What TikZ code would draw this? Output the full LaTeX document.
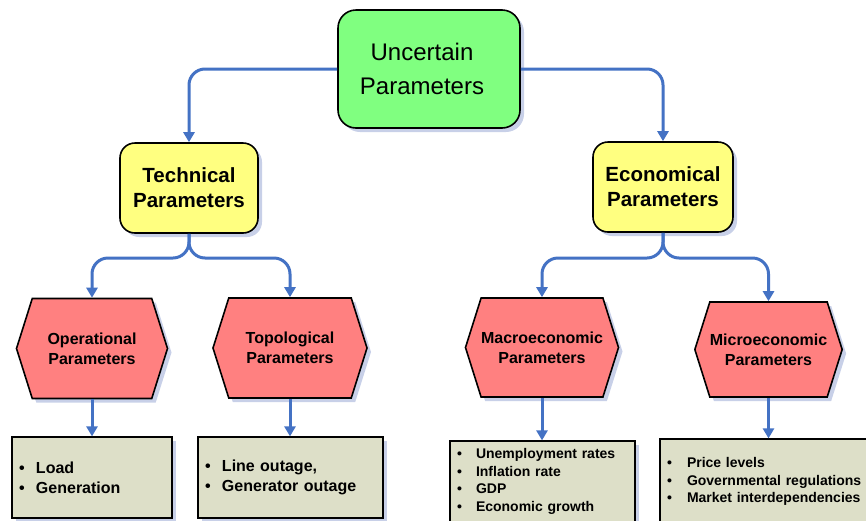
\documentclass[tikz,border=0pt]{standalone}
\usepackage{fontspec}
\setmainfont{Liberation Sans}
\usetikzlibrary{arrows.meta,shapes.symbols,shadows}
\definecolor{linec}{RGB}{68,114,196}
\definecolor{greenc}{RGB}{128,255,128}
\definecolor{yellowc}{RGB}{255,255,128}
\definecolor{redc}{RGB}{255,128,128}
\definecolor{khakic}{RGB}{221,223,200}
\definecolor{shadowc}{RGB}{190,200,228}
\newcommand{\myitem}[2]{\makebox[#1][l]{\textbullet}#2}
\begin{document}
\begin{tikzpicture}[x=1pt,y=-1pt,
  shadowed/.style={drop shadow={shadow xshift=4pt,shadow yshift=-4pt,fill=shadowc,opacity=0.85}},
  topbox/.style={draw=black,line width=1.6pt,fill=greenc,rounded corners=18pt,
    minimum width=182pt,minimum height=118pt,align=center,inner sep=0pt,
    font=\fontsize{24}{34}\selectfont,shadowed},
  midbox/.style={draw=black,line width=1.6pt,fill=yellowc,rounded corners=15pt,
    minimum height=90pt,align=center,inner sep=0pt,
    font=\bfseries\fontsize{20.5}{25}\selectfont,shadowed},
  hexbox/.style={signal,signal to=west and east,signal pointer angle=145,
    draw=black,line width=1.6pt,fill=redc,align=center,inner sep=0pt,
    font=\bfseries\fontsize{16}{20}\selectfont,shadowed},
  leafbox/.style={draw=black,line width=1.2pt,fill=khakic,inner xsep=7pt,inner ysep=0pt,
    align=left,shadowed},
  connector/.style={draw=linec,line width=3pt,rounded corners=16pt,
    -{Triangle[width=11pt,length=10pt]}}
]
\useasboundingbox (0,0) rectangle (866,520);
\clip (0,0) rectangle (866,520);

% top
\node[topbox] (top) at (429,69) {Uncertain\hspace*{14pt}\\Parameters\hspace*{14pt}};

% second level
\node[midbox,minimum width=138pt] (tech) at (189,188) {Technical\\Parameters};
\node[midbox,minimum width=140pt] (econ) at (663,187) {Economical\\Parameters};

% hexagons
\node[hexbox,minimum width=151pt,minimum height=100pt] (op) at (92,348.5) {Operational\\Parameters};
\node[hexbox,minimum width=154pt,minimum height=100pt] (topo) at (290,348) {Topological\\Parameters};
\node[hexbox,minimum width=149pt,minimum height=99pt] (macro) at (542,347.5) {Macroeconomic\\Parameters};
\node[hexbox,minimum width=143pt,minimum height=95pt] (micro) at (768.5,349.5) {Microeconomic\\Parameters};

% leaves
\node[leafbox,text width=146pt,minimum height=81pt,font=\bfseries\fontsize{16}{20}\selectfont] (b1) at (92,477.5)
  {\myitem{17pt}{Load}\\\myitem{17pt}{Generation}};
\node[leafbox,text width=171pt,minimum height=81pt,font=\bfseries\fontsize{16}{20}\selectfont] (b2) at (290.5,477.5)
  {\myitem{17pt}{Line outage,}\\\myitem{17pt}{Generator outage}};
\node[leafbox,text width=171pt,minimum height=81pt,font=\bfseries\fontsize{14}{17.5}\selectfont] (b3) at (542.5,481.5)
  {\myitem{19pt}{Unemployment rates}\\\myitem{19pt}{Inflation rate}\\\myitem{19pt}{GDP}\\\myitem{19pt}{Economic growth}};
\node[leafbox,text width=196pt,minimum height=85pt,font=\bfseries\fontsize{14}{17.5}\selectfont] (b4) at (765,481.5)
  {\myitem{20pt}{Price levels}\\\myitem{20pt}{Governmental regulations}\\\myitem{20pt}{Market interdependencies}};

% connectors top -> second level
\draw[connector] (top.west) -| (tech.north);
\draw[connector] (top.east) -| (econ.north);

% branches
\coordinate (tj) at (189,258);
\coordinate (ej) at (663,258);
\draw[connector] (tech.south) -- (tj) -| (op.north);
\draw[connector] (tech.south) -- (tj) -| (topo.north);
\draw[connector] (econ.south) -- (ej) -| (macro.north);
\draw[connector] (econ.south) -- (ej) -| (micro.north);

% hexagon -> leaves
\draw[connector] (op.south) -- (op.south |- b1.north);
\draw[connector] (topo.south) -- (topo.south |- b2.north);
\draw[connector] (macro.south) -- (macro.south |- b3.north);
\draw[connector] (micro.south) -- (micro.south |- b4.north);
\end{tikzpicture}
\end{document}
